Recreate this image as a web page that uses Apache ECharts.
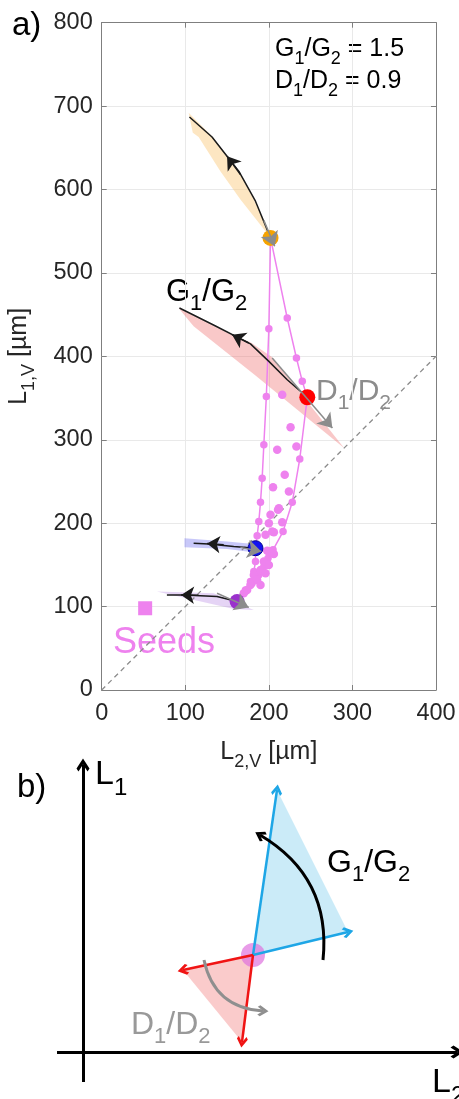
<!DOCTYPE html>
<html>
<head>
<meta charset="utf-8">
<script src="https://cdn.jsdelivr.net/npm/echarts@6/dist/echarts.min.js"></script>
<style>
  html, body { margin: 0; padding: 0; background: #fff; }
  #chart { width: 459px; height: 1099px; }
</style>
</head>
<body>
<div id="chart"></div>
<script>
// ---------- panel a: trajectories in the (L2,V , L1,V) plane, µm ----------
const axisRange = { min: 0, xMax: 400, yMax: 800, step: 100 };
const diagonal = [[0, 0], [400, 400]];

const seeds = [[52, 98]];
const pointOrange = [[202, 542]];
const pointRed = [[246, 351]];
const pointBlue = [[184, 170]];
const pointPurple = [[162, 106]];

// two connected growth curves starting at the orange state
const pinkLeft = [[202, 542], [200, 433], [197, 352], [194, 294], [192, 254], [190, 225], [188, 202],
  [186, 185], [184, 170], [184, 154], [182, 142], [178, 130], [172, 120], [162, 106]];
const pinkRight = [[202, 542], [222, 446], [233, 398], [240, 370], [246, 351], [237, 277], [228, 225],
  [217, 190], [205, 168], [199, 158], [194, 148], [188, 138], [180, 128], [172, 118], [162, 106]];
// remaining simulated states
const pinkDots = [[216, 354], [226, 315], [210, 288], [233, 292], [219, 258], [205, 243], [224, 238],
  [212, 218], [202, 210], [216, 201], [206, 189], [196, 186], [204, 164], [198, 167], [200, 200],
  [211, 216], [204, 190], [200, 166], [206, 163], [194, 154], [200, 150], [190, 144], [196, 140],
  [182, 138], [186, 132], [178, 126], [174, 120], [170, 116], [190, 126]];

// sensitivity trajectories (black) for varying G1/G2
const pathOrange = [[202, 542], [184, 586], [164, 622], [132, 663], [105, 687]];
const pathRed = [[246, 351], [222, 372], [200, 394], [178, 415], [135, 437], [93, 458]];
const pathBlue = [[184, 170], [158, 172], [128, 175], [110, 176]];
const pathPurple = [[162, 106], [138, 112], [98, 114], [78, 114]];
const arrowsBlack = [
  [[166, 618], [150, 640]],
  [[176, 416], [156, 426]],
  [[146, 174], [126, 175.5]],
  [[116, 113.5], [95, 114]]
];
// D1/D2 directions (grey)
const arrowsGrey = [
  [[194, 563], [207, 532]],
  [[204, 398], [276, 314]],
  [[166, 171], [191, 166]],
  [[138, 116], [176, 99]]
];

// shaded uncertainty regions
const bandOrange = [[104, 692], [132, 664], [164, 622], [182, 588], [204, 540], [200, 545], [166, 588],
  [142, 622], [116, 663], [109, 668]];
const bandRed = [[92, 458], [157, 425], [178, 417], [204, 399], [290, 290], [184, 377], [110, 436], [100, 448]];
const bandBlue = [[99, 182], [150, 178], [191, 174], [191, 164], [150, 169], [99, 171]];
const bandPurple = [[66, 118], [134, 116], [182, 96], [158, 97]];

// ---------- panel b: schematic ----------
const axisL1 = [[3, -30], [3, 287]];
const axisL2 = [[-23, 0], [377, 0]];
const centre = [173, 97];
const tipsG = [[197, 262], [268, 120]];
const tipsD = [[103, 82], [162, 10]];
const arcG = [[243, 92], [180, 217]];
const arcD = [[124, 92], [183, 41]];

const FONT = '"Liberation Sans", Arial, Helvetica, sans-serif';
const VIOLET = '#ee82ee';
const GREY = '#8c8c8c';
const CHEVRON = 'path://M0,10 L10,0 L20,10 L17,13 L10,6 L3,13 Z';

function rich(size, color) {
  return {
    m: { fontSize: size, fontFamily: FONT, color: color, fill: color, verticalAlign: 'top' },
    s: { fontSize: Math.round(size * 0.7), fontFamily: FONT, color: color, fill: color,
         verticalAlign: 'bottom', padding: [Math.round(size * 0.52), 0, 0, 0] }
  };
}

function polygon(verts, fill, ax) {
  return {
    type: 'custom', xAxisIndex: ax, yAxisIndex: ax, silent: true, z: 1,
    data: [verts[0]],
    renderItem: function (params, api) {
      return { type: 'polygon', shape: { points: verts.map(function (v) { return api.coord(v); }) },
               style: { fill: fill } };
    }
  };
}

function path(data, color, width, z) {
  return { type: 'line', xAxisIndex: 0, yAxisIndex: 0, data: data, symbol: 'none', silent: true, z: z,
           lineStyle: { color: color, width: width } };
}

function arrows(segs, color, width, symbol, size, ax, z, curve) {
  return {
    type: 'lines', coordinateSystem: 'cartesian2d', xAxisIndex: ax, yAxisIndex: ax, silent: true, z: z,
    symbol: ['none', symbol], symbolSize: size,
    lineStyle: { color: color, width: width, opacity: 1, curveness: curve || 0 },
    data: segs.map(function (s) { return { coords: s }; })
  };
}

function dot(data, color, size, symbol, z, border) {
  return { type: 'scatter', xAxisIndex: 0, yAxisIndex: 0, data: data, symbol: symbol || 'circle',
           symbolSize: size, silent: true, z: z,
           itemStyle: { color: color, opacity: 1, borderColor: border || color, borderWidth: border ? 1 : 0 } };
}

const axisGrey = '#7f7f7f';
const frameAxis = function (extra) {
  return Object.assign({
    type: 'value', gridIndex: 0, min: axisRange.min, interval: axisRange.step,
    axisLine: { show: true, onZero: false, lineStyle: { color: axisGrey, width: 1 } },
    axisTick: { show: true, inside: true, length: 5, lineStyle: { color: axisGrey } },
    axisLabel: { show: false },
    splitLine: { show: false }
  }, extra);
};

const chart = echarts.init(document.getElementById('chart'), null, { renderer: 'canvas' });
chart.setOption({
  animation: false,
  backgroundColor: '#fff',
  grid: [
    { left: 101.7, top: 22.7, width: 334.3, height: 667.3, outerBoundsMode: 'none' },
    { left: 0, top: 740, width: 459, height: 359, outerBoundsMode: 'none' }
  ],
  xAxis: [
    frameAxis({
      max: axisRange.xMax, position: 'bottom',
      axisLabel: { show: true, color: '#262626', fontSize: 23.5, fontFamily: FONT, margin: 12,
                   showMinLabel: true, showMaxLabel: true },
      splitLine: { show: true, lineStyle: { color: '#e9e9e9', width: 1 } },
      name: '{m|L}{s|2,V}{m| [µm]}', nameLocation: 'middle', nameGap: 50,
      nameTextStyle: { rich: rich(25, '#262626') }
    }),
    frameAxis({ max: axisRange.xMax, position: 'top' }),
    { type: 'value', gridIndex: 1, min: -80, max: 379, show: false }
  ],
  yAxis: [
    frameAxis({
      max: axisRange.yMax, position: 'left',
      axisLabel: { show: true, color: '#262626', fontSize: 23.5, fontFamily: FONT, margin: 9,
                   showMinLabel: true, showMaxLabel: true },
      splitLine: { show: true, lineStyle: { color: '#e9e9e9', width: 1 } },
      name: '{m|L}{s|1,V}{m| [µm]}', nameLocation: 'middle', nameGap: 64, nameRotate: 90,
      nameTextStyle: { rich: rich(25, '#262626') }
    }),
    frameAxis({ max: axisRange.yMax, position: 'right' }),
    { type: 'value', gridIndex: 1, min: -47, max: 312, show: false }
  ],
  series: [
    polygon(bandOrange, 'rgba(250,200,120,0.45)', 0),
    polygon(bandRed, 'rgba(240,110,110,0.38)', 0),
    polygon(bandBlue, 'rgba(110,110,240,0.38)', 0),
    polygon(bandPurple, 'rgba(175,120,225,0.32)', 0),
    { type: 'line', xAxisIndex: 0, yAxisIndex: 0, data: diagonal, symbol: 'none', silent: true, z: 2,
      lineStyle: { color: GREY, width: 1.3, type: [5, 4] } },
    { type: 'line', xAxisIndex: 0, yAxisIndex: 0, data: pinkLeft, symbol: 'circle', symbolSize: 7.5,
      silent: true, z: 3, itemStyle: { color: VIOLET }, lineStyle: { color: VIOLET, width: 1.5 } },
    { type: 'line', xAxisIndex: 0, yAxisIndex: 0, data: pinkRight, symbol: 'circle', symbolSize: 7.5,
      silent: true, z: 3, itemStyle: { color: VIOLET }, lineStyle: { color: VIOLET, width: 1.5 } },
    dot(pinkDots, VIOLET, 8.5, 'circle', 3),
    path(pathOrange, '#1a1a1a', 1.5, 4),
    path(pathRed, '#1a1a1a', 1.5, 4),
    path(pathBlue, '#1a1a1a', 1.5, 4),
    path(pathPurple, '#1a1a1a', 1.5, 4),
    arrows(arrowsBlack, '#1a1a1a', 1.5, 'arrow', [10, 13], 0, 5),
    dot(pointOrange, '#f5a300', 16, 'circle', 5),
    dot(pointRed, '#ff0000', 16, 'circle', 5),
    dot(pointBlue, '#1212f0', 15, 'circle', 5, '#000090'),
    dot(pointPurple, '#9a30cc', 15, 'circle', 5),
    arrows(arrowsGrey, GREY, 1.5, 'arrow', [10, 14], 0, 6),
    dot(seeds, VIOLET, 14, 'rect', 5),

    // panel b
    polygon([centre, tipsG[0], tipsG[1]], 'rgba(140,210,240,0.45)', 2),
    polygon([centre, tipsD[0], tipsD[1]], 'rgba(245,140,140,0.45)', 2),
    { type: 'scatter', xAxisIndex: 2, yAxisIndex: 2, data: [centre], symbolSize: 24, silent: true, z: 2,
      itemStyle: { color: 'rgba(222,110,222,0.85)' } },
    arrows([axisL1, axisL2], '#000', 3, CHEVRON, [18, 13], 2, 3),
    arrows(tipsG.map(function (t) { return [centre, t]; }), '#1ea6e6', 2.5, CHEVRON, [16, 11], 2, 4),
    arrows(tipsD.map(function (t) { return [centre, t]; }), '#f01414', 2.5, CHEVRON, [16, 11], 2, 4),
    arrows([arcG], '#000', 3, CHEVRON, [16, 11], 2, 4, -0.32),
    arrows([arcD], '#8f8f8f', 3, CHEVRON, [16, 11], 2, 4, -0.38)
  ],
  graphic: [
    { type: 'text', left: 12, top: 9, style: { text: 'a)', fontSize: 33, fontFamily: FONT, fill: '#000' } },
    { type: 'text', left: 275, top: 37, style: { text: '{m|G}{s|1}{m|/G}{s|2}{m| = 1.5}', rich: rich(25, '#000') } },
    { type: 'text', left: 275, top: 69, style: { text: '{m|D}{s|1}{m|/D}{s|2}{m| = 0.9}', rich: rich(25, '#000') } },
    { type: 'text', left: 166, top: 277, style: { text: '{m|G}{s|1}{m|/G}{s|2}', rich: rich(31, '#000') } },
    { type: 'text', left: 316, top: 377, style: { text: '{m|D}{s|1}{m|/D}{s|2}', rich: rich(30, GREY) } },
    { type: 'text', left: 113, top: 625, style: { text: 'Seeds', fontSize: 36, fontFamily: FONT, fill: VIOLET } },
    { type: 'text', left: 17, top: 771, style: { text: 'b)', fontSize: 33, fontFamily: FONT, fill: '#000' } },
    { type: 'text', left: 95, top: 758, style: { text: '{m|L}{s|1}', rich: rich(34, '#000') } },
    { type: 'text', left: 327, top: 847, style: { text: '{m|G}{s|1}{m|/G}{s|2}', rich: rich(32, '#000') } },
    { type: 'text', left: 131, top: 1009, style: { text: '{m|D}{s|1}{m|/D}{s|2}', rich: rich(32, '#999') } },
    { type: 'text', left: 432, top: 1066, style: { text: '{m|L}{s|2}', rich: rich(34, '#000') } }
  ]
});
</script>
</body>
</html>
